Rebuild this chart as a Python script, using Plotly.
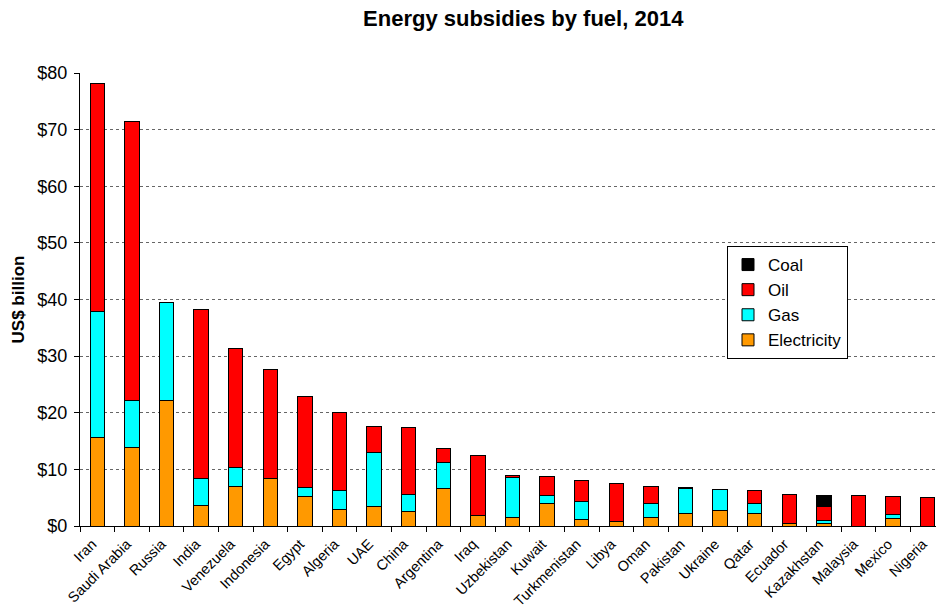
import plotly.graph_objects as go

countries = ["Iran", "Saudi Arabia", "Russia", "India", "Venezuela", "Indonesia", "Egypt",
             "Algeria", "UAE", "China", "Argentina", "Iraq", "Uzbekistan", "Kuwait",
             "Turkmenistan", "Libya", "Oman", "Pakistan", "Ukraine", "Qatar", "Ecuador",
             "Kazakhstan", "Malaysia", "Mexico", "Nigeria"]
electricity = [15.6, 13.8, 22.1, 3.7, 6.9, 8.4, 5.2, 3.0, 3.5, 2.6, 6.7, 1.9, 1.5, 4.0, 1.1,
               0.76, 1.5, 2.2, 2.7, 2.2, 0.5, 0.5, 0, 1.4, 0]
gas = [22.3, 8.3, 17.4, 4.7, 3.4, 0, 1.6, 3.2, 9.5, 2.9, 4.6, 0, 7.0, 1.3, 3.3,
       0, 2.45, 4.4, 3.7, 1.7, 0, 0.5, 0, 0.7, 0]
oil = [40.2, 49.3, 0, 29.8, 21.1, 19.3, 16.1, 13.9, 4.5, 11.9, 2.3, 10.5, 0.5, 3.5, 3.6,
       6.8, 2.95, 0.2, 0, 2.3, 5.1, 2.5, 5.3, 3.1, 5.0]
coal = [0, 0, 0, 0, 0, 0, 0, 0, 0, 0, 0, 0, 0, 0, 0,
        0, 0, 0, 0, 0, 0, 1.8, 0, 0, 0]
y_ticks = [0, 10, 20, 30, 40, 50, 60, 70, 80]
y_tick_labels = ["$0", "$10", "$20", "$30", "$40", "$50", "$60", "$70", "$80"]

FONT = "Liberation Sans, Arial, sans-serif"
series = [("Electricity", electricity, "#FF9900"),
          ("Gas", gas, "#00FFFF"),
          ("Oil", oil, "#FF0000"),
          ("Coal", coal, "#000000")]

fig = go.Figure()
for name, vals, color in series:
    fig.add_trace(go.Bar(
        x=countries, y=vals, name=name, width=0.42,
        marker=dict(color=color, line=dict(color="black", width=1)),
    ))

fig.update_layout(
    barmode="stack",
    width=936, height=608,
    margin=dict(l=80, r=0, t=73, b=82),
    paper_bgcolor="white", plot_bgcolor="white",
    font=dict(family=FONT, color="black"),
    title=dict(text="<b>Energy subsidies by fuel, 2014</b>", x=0.559, xanchor="center",
               y=1 - 18 / 608, yanchor="middle", xref="container", yref="container",
               font=dict(size=22, family=FONT, color="black")),
    legend=dict(traceorder="reversed", x=(727 - 80) / 856, y=(526 - 246) / 453,
                xanchor="left", yanchor="top",
                bgcolor="white", bordercolor="black", borderwidth=1,
                font=dict(size=17, family=FONT, color="black"),
                tracegroupgap=0, itemwidth=30),
    showlegend=True,
)
fig.update_xaxes(
    type="category", range=[-0.5, 24.24],
    showline=True, linecolor="black", linewidth=1,
    ticks="outside", tickson="boundaries", ticklen=5, tickcolor="black",
    tickangle=-45, tickfont=dict(size=14.5, family=FONT, color="black"),
    ticklabelstandoff=3, ticklabelshift=-5,
    showgrid=False, automargin=False,
)
fig.update_yaxes(
    range=[0, 80], tickvals=y_ticks, ticktext=y_tick_labels,
    showline=True, linecolor="black", linewidth=1,
    ticks="outside", ticklen=5, tickcolor="black",
    tickfont=dict(size=18, family=FONT, color="black"),
    ticklabelstandoff=3,
    showgrid=True, gridcolor="#666666", griddash="dot", gridwidth=1,
    zeroline=False, automargin=False,
    title=dict(text="<b>US$ billion</b>", standoff=8,
               font=dict(size=17, family=FONT, color="black")),
)

fig.write_html("out.html")
